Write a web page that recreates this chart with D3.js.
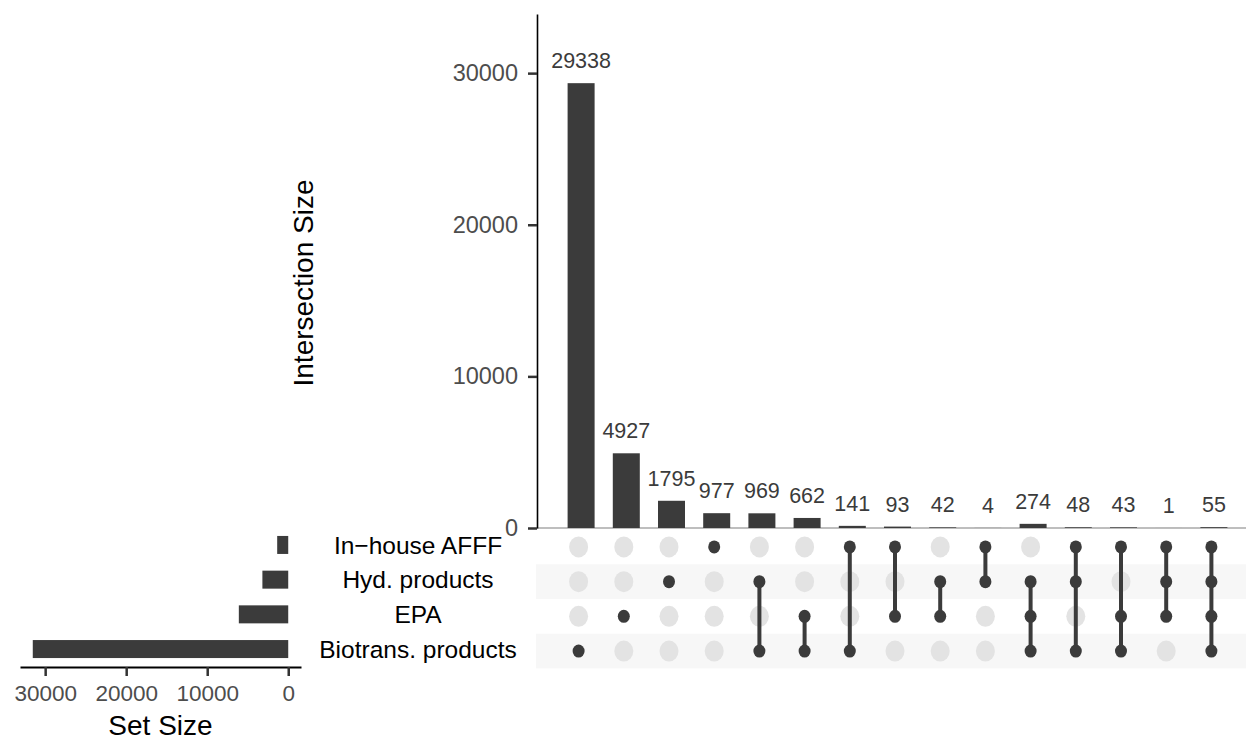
<!DOCTYPE html>
<html>
<head>
<meta charset="utf-8">
<script src="https://cdn.jsdelivr.net/npm/d3@7"></script>
<style>
  body { margin: 0; background: #fff; }
  text { font-family: "Liberation Sans", Arial, Helvetica, sans-serif; }
</style>
</head>
<body>
<svg id="chart" width="1246" height="741"></svg>
<script>
// Sets, listed top to bottom in the matrix
const sets = ["In\u2212house AFFF", "Hyd. products", "EPA", "Biotrans. products"];
const setSizes = [1362, 3188, 6097, 31530];

// Intersections, left to right
const intersectionSizes = [29338, 4927, 1795, 977, 969, 662, 141, 93, 42, 4, 274, 48, 43, 1, 55];
const intersectionMembers = [
  ["Biotrans. products"],
  ["EPA"],
  ["Hyd. products"],
  ["In\u2212house AFFF"],
  ["Hyd. products", "Biotrans. products"],
  ["EPA", "Biotrans. products"],
  ["In\u2212house AFFF", "Biotrans. products"],
  ["In\u2212house AFFF", "EPA"],
  ["Hyd. products", "EPA"],
  ["In\u2212house AFFF", "Hyd. products"],
  ["Hyd. products", "EPA", "Biotrans. products"],
  ["In\u2212house AFFF", "Hyd. products", "Biotrans. products"],
  ["In\u2212house AFFF", "EPA", "Biotrans. products"],
  ["In\u2212house AFFF", "Hyd. products", "EPA"],
  ["In\u2212house AFFF", "Hyd. products", "EPA", "Biotrans. products"]
];

const intersectionTicks = [0, 10000, 20000, 30000];
const setTicks = [0, 10000, 20000, 30000];

const dark = "#3b3b3b";
const svg = d3.select("#chart");

// ---- scales ----
const cols = d3.range(intersectionSizes.length);
const x = d3.scaleBand().domain(cols).range([556, 1234]).paddingInner(0);
const barW = 27;
const barShift = 2.5;

const y = d3.scaleLinear().domain([0, 33900]).range([528, 14]);

const row = d3.scaleBand().domain(sets).range([529.6, 668.4]);
const rowC = s => row(s) + row.bandwidth() / 2;

const maxSet = d3.max(setSizes);
const xs = d3.scaleLinear().domain([maxSet * 1.05, -maxSet * 0.05]).range([20, 301]);

// ---- matrix stripes ----
svg.append("g").selectAll("rect")
  .data(sets.filter((s, i) => i % 2 === 1))
  .join("rect")
  .attr("x", 536).attr("width", 1246 - 536)
  .attr("y", d => row(d)).attr("height", row.bandwidth())
  .attr("fill", "#f7f7f7");

// ---- intersection bars ----
svg.append("line")
  .attr("x1", 537).attr("x2", 1246).attr("y1", y(0)).attr("y2", y(0))
  .attr("stroke", "#a8a8a8").attr("stroke-width", 1.5);

svg.append("g").selectAll("rect")
  .data(intersectionSizes)
  .join("rect")
  .attr("x", (d, i) => x(i) + x.bandwidth() / 2 + barShift - barW / 2)
  .attr("width", barW)
  .attr("y", d => y(d))
  .attr("height", d => y(0) - y(d))
  .attr("fill", dark);

svg.append("g").selectAll("text")
  .data(intersectionSizes)
  .join("text")
  .attr("x", (d, i) => x(i) + x.bandwidth() / 2 + barShift)
  .attr("y", d => y(d) - 15)
  .attr("text-anchor", "middle")
  .attr("font-size", 21.5)
  .attr("fill", dark)
  .text(d => d);

// y axis
const yAxis = svg.append("g")
  .attr("transform", "translate(537,0)")
  .call(d3.axisLeft(y).tickValues(intersectionTicks).tickSize(9).tickSizeOuter(0).tickPadding(10).tickFormat(d3.format("d")));
yAxis.select(".domain").attr("stroke", "#000").attr("stroke-width", 1.6);
yAxis.selectAll(".tick line").attr("stroke", "#333").attr("stroke-width", 2.5);
yAxis.selectAll(".tick text").attr("font-size", 23.5).attr("fill", "#4d4d4d").attr("font-family", "Liberation Sans, Arial, sans-serif");

svg.append("text")
  .attr("transform", "translate(313,283) rotate(-90)")
  .attr("text-anchor", "middle")
  .attr("font-size", 28)
  .attr("fill", "#000")
  .text("Intersection Size");

// ---- matrix dots ----
const mat = svg.append("g");
cols.forEach(i => {
  const cx = x(i) + x.bandwidth() / 2;
  const members = intersectionMembers[i];
  sets.forEach(s => {
    if (!members.includes(s)) {
      mat.append("ellipse").attr("cx", cx).attr("cy", rowC(s)).attr("rx", 9.5).attr("ry", 10.5).attr("fill", "#e3e3e3");
    }
  });
  const ys = members.map(rowC);
  if (members.length > 1) {
    mat.append("line")
      .attr("x1", cx).attr("x2", cx)
      .attr("y1", d3.min(ys)).attr("y2", d3.max(ys))
      .attr("stroke", dark).attr("stroke-width", 4);
  }
  ys.forEach(cy => {
    mat.append("ellipse").attr("cx", cx).attr("cy", cy).attr("rx", 6).attr("ry", 6.5).attr("fill", dark);
  });
});

// ---- set size bars ----
const setBarH = 18;
svg.append("g").selectAll("rect")
  .data(setSizes)
  .join("rect")
  .attr("x", d => xs(d))
  .attr("width", d => xs(0) - xs(d))
  .attr("y", (d, i) => rowC(sets[i]) - 2 - setBarH / 2)
  .attr("height", setBarH)
  .attr("fill", dark);

const xsAxis = svg.append("g")
  .attr("transform", "translate(0,667)")
  .call(d3.axisBottom(xs).tickValues(setTicks).tickSize(9).tickSizeOuter(0).tickPadding(9).tickFormat(d3.format("d")));
xsAxis.select(".domain").attr("stroke", "#000").attr("stroke-width", 2);
xsAxis.selectAll(".tick line").attr("stroke", "#333").attr("stroke-width", 2.5);
xsAxis.selectAll(".tick text").attr("font-size", 22.5).attr("fill", "#4d4d4d").attr("font-family", "Liberation Sans, Arial, sans-serif");

svg.append("text")
  .attr("x", 160.5).attr("y", 735)
  .attr("text-anchor", "middle")
  .attr("font-size", 28)
  .attr("fill", "#000")
  .text("Set Size");

// set names
svg.append("g").selectAll("text")
  .data(sets)
  .join("text")
  .attr("x", 418)
  .attr("y", d => rowC(d) - 2 + 8.8)
  .attr("text-anchor", "middle")
  .attr("font-size", 24.5)
  .attr("fill", "#000")
  .text(d => d);
</script>
</body>
</html>
